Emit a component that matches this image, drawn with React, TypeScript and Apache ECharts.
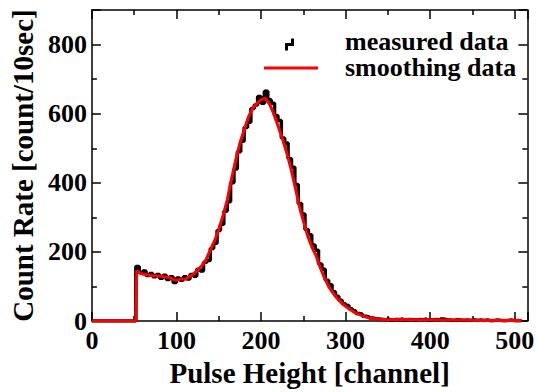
import React, { useEffect, useRef } from "react";
import * as echarts from "echarts";

// measured histogram: one value per 4-channel bin, starting at channel 0
const MEASURED_BIN = 4;
const measuredCounts = [
  0, 0, 0, 0, 0, 0, 0, 0, 0, 0, 0, 0, 0,
  158, 140, 145, 132, 138, 128, 135, 124, 133, 120, 128, 112, 125, 118, 128, 122,
  135, 130, 150, 145, 170, 175, 210, 225, 262, 280, 318, 345, 400, 440, 490, 520,
  560, 575, 615, 625, 650, 630, 665, 640, 630, 595, 580, 530, 515, 470, 445, 395,
  340, 310, 265, 250, 220, 205, 165, 150, 118, 105, 85, 72, 60, 50, 45, 36,
  30, 22, 20, 14, 12, 9, 7, 6, 5, 4, 6, 3, 5, 4, 6, 3,
  5, 4, 3, 5, 4, 6, 3, 4, 5, 3, 6, 4, 3, 2, 4, 3,
  2, 3, 2, 4, 2, 3, 2, 3, 1, 2, 3, 2, 1, 2, 3, 1,
  2, 1, 2,
];

const smoothChannels = [
  0, 52, 53, 56, 60, 65, 70, 75, 80, 85, 90, 95, 100, 105, 110, 115, 120, 125, 130,
  135, 140, 145, 150, 155, 160, 165, 170, 175, 180, 185, 190, 195, 200, 205, 210,
  215, 220, 225, 230, 235, 240, 245, 250, 255, 260, 265, 270, 275, 280, 285, 290,
  295, 300, 305, 310, 315, 320, 325, 330, 335, 340, 350, 365, 380, 400, 420, 440,
  460, 480, 500, 508,
];
const smoothCounts = [
  0, 0, 146, 140, 136, 134, 132, 131, 130, 128, 127, 122, 118, 122, 121, 128, 136, 148, 160,
  178, 205, 232, 265, 305, 350, 410, 465, 515, 552, 590, 615, 630, 640, 645, 628,
  600, 565, 530, 490, 445, 392, 335, 290, 248, 215, 190, 155, 125, 100, 82, 66,
  53, 43, 34, 26, 20, 15, 11, 8, 6, 5, 4, 5, 4, 4, 3, 3,
  2, 2, 2, 2,
];

const xTickLabels = [0, 100, 200, 300, 400, 500];
const yTickLabels = [0, 200, 400, 600, 800];
const legendNames = ["measured data", "smoothing data"];
const xName = "Pulse Height [channel]";
const yName = "Count Rate [count/10sec]";

const FONT = "Liberation Serif";

export default function App() {
  const ref = useRef<HTMLDivElement>(null);
  useEffect(() => {
    if (!ref.current) return;
    const chart = echarts.init(ref.current, undefined, { renderer: "svg" });
    const measured = measuredCounts.map((v, i) => [i * MEASURED_BIN, v]);
    const smooth = smoothChannels.map((c, i) => [c, smoothCounts[i]]);

    const axisLine = { show: true, onZero: false, lineStyle: { color: "#000", width: 1.5 } };
    const tick = { show: true, inside: true, length: 9, lineStyle: { color: "#000", width: 1.5 } };
    const minor = { show: true, splitNumber: 2, length: 5, lineStyle: { color: "#000", width: 1.5 } };
    const labelStyle = { fontFamily: FONT, fontSize: 26, fontWeight: "bold" as const, color: "#000" };

    const xBase = { type: "value" as const, min: 0, max: 515, interval: 100, splitLine: { show: false }, minorSplitLine: { show: false }, axisLine, axisTick: tick, minorTick: minor };
    const yBase = { type: "value" as const, min: 0, max: 900, interval: 200, splitLine: { show: false }, minorSplitLine: { show: false }, axisLine, axisTick: tick, minorTick: minor };

    chart.setOption({
      animation: false,
      textStyle: { fontFamily: FONT },
      grid: { left: 85, right: 9, top: 10, bottom: 63, containLabel: false },
      xAxis: [
        {
          ...xBase,
          position: "bottom",
          axisLabel: { ...labelStyle, margin: 6, formatter: (v: number) => (xTickLabels.includes(v) ? String(v) : "") },
          name: xName,
          nameLocation: "middle",
          nameGap: 36,
          nameTextStyle: { fontFamily: FONT, fontSize: 29, fontWeight: "bold", color: "#000" },
        },
        { ...xBase, position: "top", axisLabel: { show: false } },
      ],
      yAxis: [
        {
          ...yBase,
          position: "left",
          axisLabel: { ...labelStyle, margin: 5, formatter: (v: number) => (yTickLabels.includes(v) ? String(v) : "") },
          name: yName,
          nameLocation: "middle",
          nameGap: 52,
          nameTextStyle: { fontFamily: FONT, fontSize: 29, fontWeight: "bold", color: "#000" },
        },
        { ...yBase, position: "right", axisLabel: { show: false } },
      ],
      series: [
        { name: legendNames[0], type: "line", step: "end", data: measured, showSymbol: false, symbol: "none", lineStyle: { color: "#000", width: 3.5 }, z: 2 },
        { name: legendNames[1], type: "line", data: smooth, showSymbol: false, symbol: "none", lineStyle: { color: "#ff0000", width: 3 }, z: 3 },
      ],
      graphic: [
        { type: "polyline", shape: { points: [[286.5, 50.5], [286.5, 44.5], [292.5, 44.5], [292.5, 38.5]] }, style: { stroke: "#000", lineWidth: 3, fill: "none" } },
        { type: "line", shape: { x1: 264, y1: 68, x2: 318, y2: 68 }, style: { stroke: "#ff0000", lineWidth: 3 } },
        { type: "text", x: 345, y: 41, style: { text: legendNames[0], fontFamily: FONT, fontSize: 26, fontWeight: "bold", fill: "#000", textVerticalAlign: "middle", textAlign: "left" } },
        { type: "text", x: 345, y: 67.5, style: { text: legendNames[1], fontFamily: FONT, fontSize: 26, fontWeight: "bold", fill: "#000", textVerticalAlign: "middle", textAlign: "left" } },
      ],
    });
    return () => chart.dispose();
  }, []);
  return <div ref={ref} style={{ position: "absolute", left: 0, top: 0, width: 537, height: 392 }} />;
}
